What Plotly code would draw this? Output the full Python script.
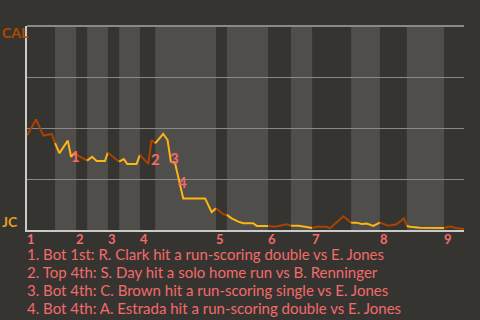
import plotly.graph_objects as go

# Win probability (CAL = 1, JC = 0) by play index
plays = [0, 2.5, 4.5, 6.8, 7.7, 8.9, 11.2, 12.1, 12.7, 13.5,
         16.5, 17.9, 19.1, 21.4, 22.2, 25.3, 26.6, 27.5, 30.1, 31.0,
         33.3, 34.2, 35.2, 37.4, 38.6, 39.5, 40.6, 42.9, 48.9, 50.7,
         51.9, 53.9, 54.9, 56.2, 58.0, 59.4, 62.1, 63.1, 66.2, 68.1,
         69.5, 71.3, 72.5, 74.5, 76.3, 78.3, 79.6, 82.3, 83.2, 86.9,
         89.0, 90.5, 91.9, 93.3, 95.1, 96.9, 99.2, 101.5, 103.5, 104.3,
         105.2, 107.9, 114.5, 115.7, 116.6, 118.0, 120.0]
cal_prob = [0.463, 0.542, 0.463, 0.471, 0.426, 0.377, 0.438, 0.359, 0.371, 0.371,
            0.340, 0.359, 0.338, 0.338, 0.379, 0.335, 0.348, 0.324, 0.324, 0.368,
            0.324, 0.441, 0.425, 0.471, 0.441, 0.335, 0.332, 0.155, 0.155, 0.088,
            0.106, 0.077, 0.074, 0.057, 0.041, 0.033, 0.033, 0.020, 0.020, 0.016,
            0.021, 0.028, 0.021, 0.021, 0.016, 0.010, 0.016, 0.016, 0.008, 0.067,
            0.036, 0.036, 0.029, 0.032, 0.020, 0.036, 0.021, 0.028, 0.057, 0.020,
            0.016, 0.011, 0.010, 0.016, 0.016, 0.008, 0.005]

# Half-inning boundaries (play index); even index = top (CAL bats), odd = bottom (JC bats)
half_bounds = [0, 7.7, 13.5, 16.5, 22.2, 25.3, 31.0, 35.2, 51.9, 54.9,
               66.2, 72.5, 78.3, 89.0, 96.9, 104.3, 114.5, 120.0]
innings = ["1", "2", "3", "4", "5", "6", "7", "8", "9"]

# Key events
event_labels = ["1", "2", "3", "4"]
event_x = [13.4, 35.2, 40.6, 42.7]
event_y = [0.363, 0.348, 0.352, 0.233]
event_text = [
    "1. Bot 1st: R. Clark hit a run-scoring double vs E. Jones",
    "2. Top 4th: S. Day hit a solo home run vs B. Renninger",
    "3. Bot 4th: C. Brown hit a run-scoring single vs E. Jones",
    "4. Bot 4th: A. Estrada hit a run-scoring double vs E. Jones",
]

BG = "#363430"
BAND = "#4f4e4b"
BROWN = "#a84400"
GOLD = "#fdb515"
SALMON = "#f36b6b"
FONT = "Lato"

fig = go.Figure()

# bands for bottom half-innings
for i in range(len(half_bounds) - 1):
    if i % 2 == 1:
        fig.add_shape(type="rect", xref="x", yref="paper",
                      x0=half_bounds[i], x1=half_bounds[i + 1], y0=0, y1=1,
                      fillcolor=BAND, line_width=0, layer="below")

# top border line
fig.add_shape(type="line", xref="paper", yref="paper", x0=0, x1=1, y0=1, y1=1,
              line=dict(color="#8a8987", width=2), layer="above")

# line segments coloured by half-inning
for i in range(len(half_bounds) - 1):
    a, b = half_bounds[i], half_bounds[i + 1]
    xs = [x for x in plays if a - 1e-9 <= x <= b + 1e-9]
    ys = [p for x, p in zip(plays, cal_prob) if a - 1e-9 <= x <= b + 1e-9]
    fig.add_trace(go.Scatter(x=xs, y=ys, mode="lines",
                             line=dict(color=BROWN if i % 2 == 0 else GOLD, width=2),
                             hoverinfo="skip", showlegend=False))

# event markers
for lab, x, y in zip(event_labels, event_x, event_y):
    fig.add_annotation(x=x, y=y, text=lab, showarrow=False,
                       font=dict(family=FONT, size=15, color=SALMON, weight="bold"),
                       xanchor="center", yanchor="middle")

# inning labels
for k, lab in enumerate(innings):
    fig.add_annotation(x=half_bounds[2 * k], y=0, yref="paper", text=lab, showarrow=False,
                       font=dict(family=FONT, size=13, color=SALMON, weight="bold"),
                       xanchor="left", yanchor="top", xshift=-2, yshift=1)

# team labels
fig.add_annotation(x=0, y=1, xref="paper", yref="paper", text="CAL", showarrow=False,
                   font=dict(family=FONT, size=14, color="#b04800", weight="bold"),
                   xanchor="left", yanchor="middle", xshift=-27, yshift=-6)
fig.add_annotation(x=0, y=0, xref="paper", yref="paper", text="JC", showarrow=False,
                   font=dict(family=FONT, size=14, color="#e8a020", weight="bold"),
                   xanchor="left", yanchor="middle", xshift=-27, yshift=9)

# event descriptions
for k, t in enumerate(event_text):
    fig.add_annotation(x=0, y=0, xref="paper", yref="paper", text=t, showarrow=False,
                       font=dict(family=FONT, size=15, color=SALMON),
                       xanchor="left", yanchor="middle", xshift=-2, yshift=-24 - 18 * k)

fig.update_layout(
    width=480, height=320,
    margin=dict(l=27, r=16, t=26, b=90),
    paper_bgcolor=BG, plot_bgcolor=BG,
    xaxis=dict(range=[0, 120], showgrid=False, zeroline=False, showticklabels=False,
               showline=True, linecolor="#c9c9c6", linewidth=2, fixedrange=True),
    yaxis=dict(range=[0, 1], tickvals=[0.25, 0.5, 0.75], showticklabels=False,
               gridcolor="#8a8987", gridwidth=1, zeroline=False,
               showline=True, linecolor="#c9c9c6", linewidth=2, fixedrange=True),
)

fig.write_html("out.html", config={"displayModeBar": False})
